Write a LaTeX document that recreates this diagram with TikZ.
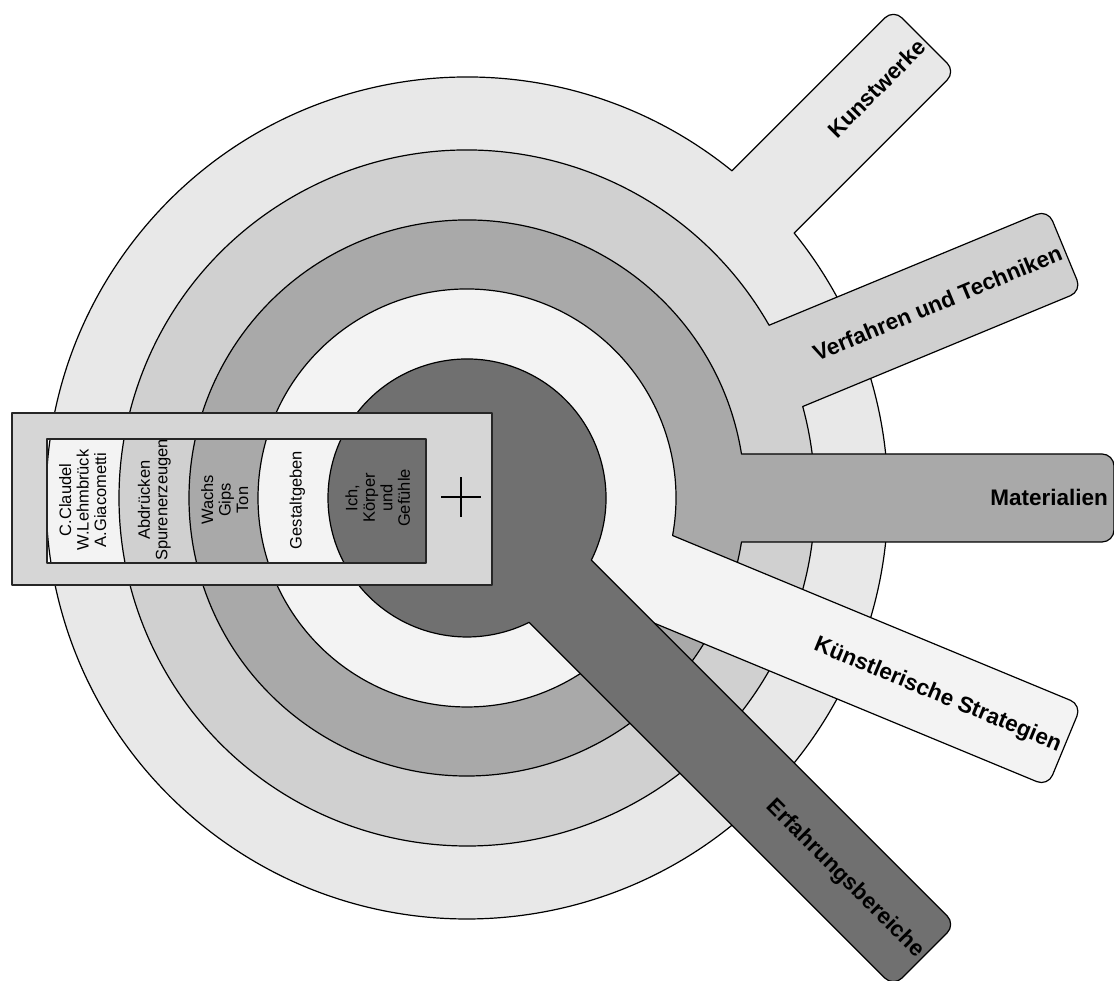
\documentclass[tikz,border=0pt]{standalone}
\usepackage{fontspec}
\setmainfont{Liberation Sans}
\definecolor{rfive}{HTML}{E8E8E8}
\definecolor{rfour}{HTML}{D0D0D0}
\definecolor{rthree}{HTML}{A9A9A9}
\definecolor{rtwo}{HTML}{F3F3F3}
\definecolor{rone}{HTML}{707070}
\definecolor{framegray}{HTML}{D6D6D6}
\newcommand\ringarm[3]{%
  \pgfmathsetmacro\al{asin(44/#1)}%
  \pgfmathsetmacro\xo{#1*cos(\al)}%
  \begin{scope}[shift={(c)}, rotate=#2]
    \filldraw[ringline, fill=#3] (\xo,44) arc[start angle=\al, end angle=360-\al, radius=#1]
      -- (635,-44) arc[start angle=-90, end angle=0, radius=12]
      -- (647,32) arc[start angle=0, end angle=90, radius=12] -- cycle;
  \end{scope}}
\newcommand\striptext[1]{\fontsize{16.5pt}{17.5pt}\selectfont\begin{tabular}{@{}c@{}}#1\end{tabular}}
\begin{document}
\begin{tikzpicture}[x=1pt,y=1pt, line join=round,
  ringline/.style={draw=black, line width=1.2pt},
  armlabel/.style={font=\bfseries\fontsize{22.5pt}{26pt}\selectfont, anchor=east, inner sep=0pt, text height=16pt, text depth=0pt},
  striplabel/.style={rotate=90, inner sep=0pt}]
\useasboundingbox (0,0) rectangle (1114,981);
\coordinate (c) at (467,483);
% rings with arms, outermost first
\ringarm{421}{45}{rfive}
\ringarm{348}{22.5}{rfour}
\ringarm{278}{0}{rthree}
\ringarm{209}{-22.5}{rtwo}
\ringarm{139}{-45}{rone}
% arm labels
\node[armlabel, rotate=45] (kunst) at ([shift={(45:643)}]c) {Kunstwerke};
\node[armlabel, rotate=22.5] (verf) at ([shift={(22.5:643)}]c) {Verfahren und Techniken};
\node[armlabel] (mat) at ([shift={(0:641)}]c) {Materialien};
\node[armlabel, rotate=-22.5] (strat) at ([shift={(-22.5:643)}]c) {Künstlerische Strategien};
\node[armlabel, rotate=-45] (erf) at ([shift={(-45:643)}]c) {Erfahrungsbereiche};
% frame box
\filldraw[draw=black!85, line width=1.5pt, fill=framegray] (12,396) rectangle (492,568);
\begin{scope}
  \clip (47,418) rectangle (426,542);
  \fill[white] (47,418) rectangle (426,542);
  \filldraw[ringline, fill=rtwo] (c) circle[radius=421];
  \filldraw[ringline, fill=rfour] (c) circle[radius=348];
  \filldraw[ringline, fill=rthree] (c) circle[radius=278];
  \filldraw[ringline, fill=rtwo] (c) circle[radius=209];
  \filldraw[ringline, fill=rone] (c) circle[radius=139];
\end{scope}
\draw[black!85, line width=1.5pt] (47,418) rectangle (426,542);
% strip labels
\node[striplabel] (s1) at (85,481) {\striptext{C.Claudel\\W.Lehmbrück\\A.Giacometti}};
\node[striplabel] (s2) at (155,481) {\striptext{Abdrücken\\Spurenerzeugen}};
\node[striplabel] (s3) at (227,481) {\striptext{Wachs\\Gips\\Ton}};
\node[striplabel] (s4) at (298,481) {\striptext{Gestaltgeben}};
\node[striplabel] (s5) at (380,483) {\striptext{Ich,\\Körper\\und\\Gefühle}};
% plus sign
\coordinate (pl) at (461,484);
\draw[line width=1.2pt] ([xshift=-20pt]pl) -- ([xshift=20pt]pl);
\draw[line width=1.2pt] ([yshift=-20pt]pl) -- ([yshift=20pt]pl);
\end{tikzpicture}
\end{document}
